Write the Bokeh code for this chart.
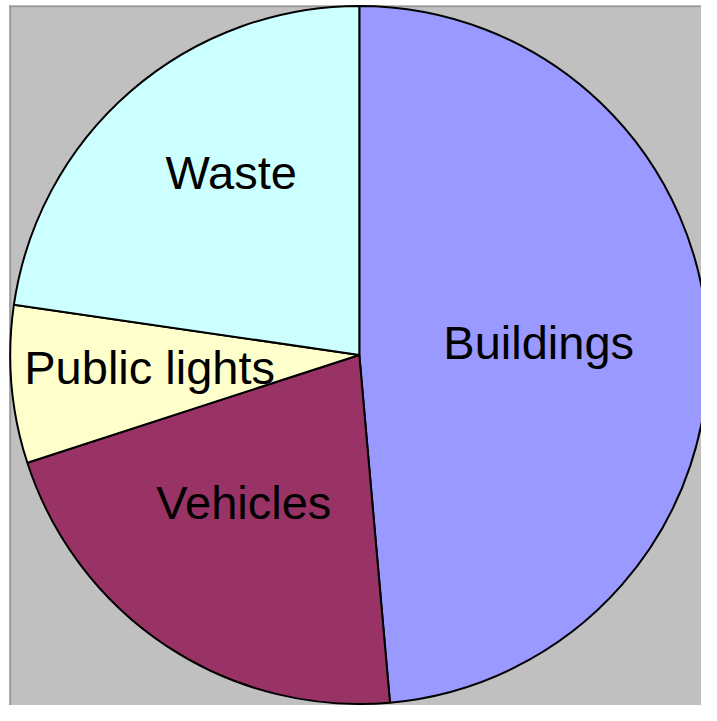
import numpy as np
from bokeh.plotting import figure
from bokeh.models import Range1d, ColumnDataSource
from bokeh.core.properties import value
from bokeh.embed import file_html
from bokeh.resources import INLINE

# ---- data ----
categories = ["Buildings", "Vehicles", "Public lights", "Waste"]
shares = [48.6, 21.4, 7.3, 22.7]          # percent
colors = ["#9999FF", "#993366", "#FFFFCC", "#CCFFFF"]

# ---- layout: data units = reference pixels (x right, y up from bottom of 717x721 frame) ----
W, H = 701, 705
RW, RH = 717, 721
p = figure(width=W, height=H, output_backend="svg", toolbar_location=None,
           x_axis_type=None, y_axis_type=None, min_border=0,
           x_range=Range1d(0, RW), y_range=Range1d(0, RH),
           background_fill_color="white", border_fill_color="white",
           outline_line_color=None)
p.grid.visible = False

# chart area background with its left and top border
p.quad(left=9, right=RW + 50, bottom=-50, top=RH - 5, fill_color="#C0C0C0", line_color=None)
p.quad(left=9, right=11, bottom=-50, top=RH - 5, fill_color="#9A9A9A", line_color=None)
p.quad(left=9, right=RW + 50, bottom=RH - 7, top=RH - 5, fill_color="#9A9A9A", line_color=None)

cx, cy, R = 367.0, RH - 362.5, 357.0

vals = np.array(shares, dtype=float)
cum = np.concatenate([[0.0], np.cumsum(vals)]) / vals.sum() * 2 * np.pi  # clockwise from top
start = np.pi / 2 - cum[:-1]
end = np.pi / 2 - cum[1:]
mid = (cum[:-1] + cum[1:]) / 2

src = ColumnDataSource(dict(cat=categories, start=start, end=end, color=colors))
p.wedge(x=cx, y=cy, radius=R, start_angle="start", end_angle="end", direction="clock",
        fill_color="color", line_color="black", line_width=2, source=src)

# label placement: mid-angle anchor plus per-label nudges (reference pixels)
frac = 0.6
nudge_x = [-30.5, 0.0, -1.0, 9.0]
nudge_y = [3.0, 27.5, 5.5, 25.0]
lx = cx + frac * R * np.sin(mid) + np.array(nudge_x)
ly = cy + frac * R * np.cos(mid) + np.array(nudge_y)
lsrc = ColumnDataSource(dict(x=lx, y=ly, t=categories))
p.text(x="x", y="y", text="t", source=lsrc, text_align="center", text_baseline="alphabetic",
       text_font=value("Liberation Sans"), text_font_size="47px", text_color="black")

open("out.html", "w").write(file_html(p, INLINE))
